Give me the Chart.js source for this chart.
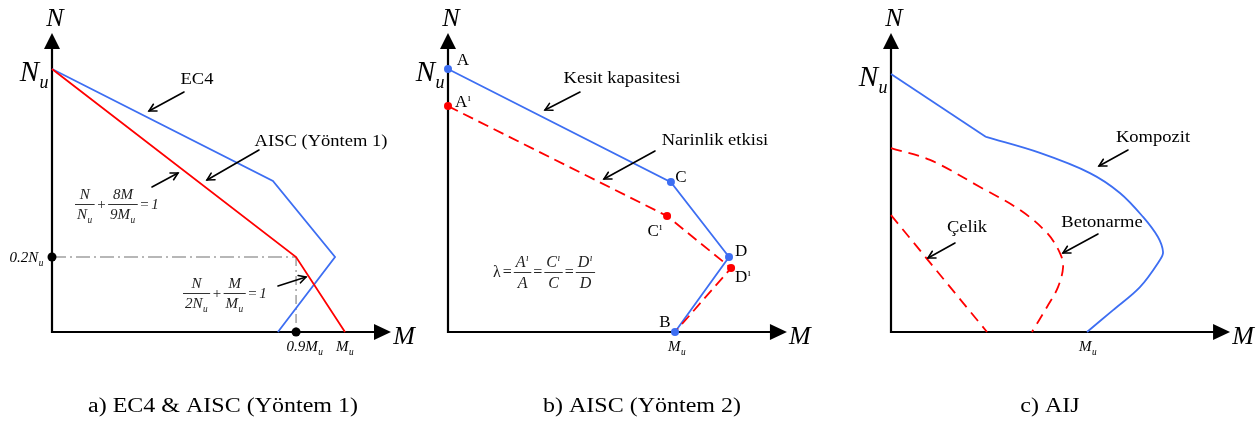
<!DOCTYPE html>
<html><head><meta charset="utf-8">
<script src="https://cdn.jsdelivr.net/npm/chart.js@4/dist/chart.umd.min.js"></script>
<style>
html,body{margin:0;padding:0;background:#fff;width:1260px;height:422px;overflow:hidden}
canvas{position:absolute;top:0}
</style></head><body>
<canvas id="ca" width="420" height="422" style="left:0px"></canvas>
<canvas id="cb" width="420" height="422" style="left:400px"></canvas>
<canvas id="cc" width="440" height="422" style="left:820px"></canvas>
<script>
// ---------- DATA (M in units of Mu, N in units of Nu) ----------
// Panel a) EC4 & AISC (Yöntem 1)
const ec4M  = [0, 0.754, 0.966, 0.771];
const ec4N  = [1, 0.574, 0.285, 0];
const aiscM = [0, 0.833, 1];
const aiscN = [1, 0.285, 0];
const aKeyM = [0.833];            // position of the 0.9Mu marker
const aKeyN = [0.285];            // position of the 0.2Nu marker
const aTickMValues = [0.833, 1];
const aTickMLabels = ['0.9M_u', 'M_u'];
const aTickNValues = [1, 0.285];
const aTickNLabels = ['N_u', '0.2N_u'];

// Panel b) AISC (Yöntem 2)
const capM = [0, 0.982, 1.238, 1];        // A, C, D, B
const capN = [1, 0.570, 0.285, 0];
const capLabels = ['A', 'C', 'D', 'B'];
const slenM = [0, 0.965, 1.247, 1];       // A', C', D', (B)
const slenN = [0.859, 0.441, 0.243, 0];
const slenLabels = ['A^ı', 'C^ı', 'D^ı'];
const bTickMValues = [1];
const bTickMLabels = ['M_u'];
const bTickNValues = [1];
const bTickNLabels = ['N_u'];

// Panel c) AIJ
const kompM = [0, 0.485, 0.760, 1.015, 1.168, 1.286, 1.362, 1.388, 1.372, 1.270, 1.133, 1.0];
const kompN = [1, 0.756, 0.694, 0.616, 0.539, 0.446, 0.368, 0.310, 0.279, 0.174, 0.085, 0];
const kompKink = 1;
const betonM = [0, 0.199, 0.454, 0.658, 0.796, 0.862, 0.878, 0.852, 0.796, 0.719];
const betonN = [0.713, 0.667, 0.562, 0.473, 0.384, 0.306, 0.252, 0.174, 0.097, 0];
const celikM = [0, 0.490];
const celikN = [0.453, 0];
const cTickMValues = [1];
const cTickMLabels = ['M_u'];
const cTickNValues = [1];
const cTickNLabels = ['N_u'];

const captions = ['a) EC4 & AISC (Yöntem 1)', 'b) AISC (Yöntem 2)', 'c) AIJ'];

// ---------- STYLE / LAYOUT ----------
const H = 422;
const BLUE = '#3d6ef2', RED = '#ff0000', GRAY = '#a0a0a0';
const SERIF = '"Liberation Serif","DejaVu Serif",serif';

function font(size, italic) { return (italic ? 'italic ' : '') + size + 'px ' + SERIF; }
function parseRich(str) {
  const segs = []; let cur = '';
  for (let i = 0; i < str.length; i++) {
    const ch = str[i];
    if ((ch === '_' || ch === '^') && i + 1 < str.length) {
      if (cur) { segs.push({ t: cur, m: 'n' }); cur = ''; }
      segs.push({ t: str[i + 1], m: ch === '_' ? 'sub' : 'sup' }); i++;
    } else cur += ch;
  }
  if (cur) segs.push({ t: cur, m: 'n' });
  return segs;
}
function richMeasure(ctx, str, size, italic) {
  let w = 0;
  for (const s of parseRich(str)) {
    ctx.font = font(s.m === 'n' ? size : size * 0.62, italic);
    w += ctx.measureText(s.t).width + (s.m !== 'n' ? 1 : 0);
  }
  return w;
}
function richDraw(ctx, str, x, base, size, italic) {
  let cx = x;
  ctx.textAlign = 'left'; ctx.textBaseline = 'alphabetic';
  for (const s of parseRich(str)) {
    const sz = s.m === 'n' ? size : size * 0.62;
    ctx.font = font(sz, italic);
    let y = base;
    if (s.m === 'sub') y = base + size * 0.24;
    if (s.m === 'sup') y = base - size * 0.36;
    if (s.m !== 'n') cx += 0.5;
    ctx.fillText(s.t, cx, y);
    cx += ctx.measureText(s.t).width + (s.m !== 'n' ? 0.5 : 0);
  }
}
function label(ctx, str, x, y, o) {
  const size = o.size, sx = o.sx || 1;
  const w = richMeasure(ctx, str, size, o.italic) * sx;
  const left = o.align === 'left' ? x : o.align === 'right' ? x - w : x - w / 2;
  ctx.save();
  ctx.fillStyle = o.color || '#000';
  ctx.translate(left, y + size * 0.33);
  ctx.scale(sx, 1);
  richDraw(ctx, str, 0, 0, size, o.italic);
  ctx.restore();
}
function formula(ctx, items, x, y, size, gap) {
  let cx = x;
  ctx.save(); ctx.fillStyle = '#222'; ctx.strokeStyle = '#333';
  for (const it of items) {
    if (it.frac) {
      const wn = richMeasure(ctx, it.frac[0], size, true), wd = richMeasure(ctx, it.frac[1], size, true);
      const w = Math.max(wn, wd) + 4;
      richDraw(ctx, it.frac[0], cx + (w - wn) / 2, y - size * 0.33, size, true);
      richDraw(ctx, it.frac[1], cx + (w - wd) / 2, y + size * 1.0, size, true);
      ctx.lineWidth = 1; ctx.beginPath(); ctx.moveTo(cx, y + 0.5); ctx.lineTo(cx + w, y + 0.5); ctx.stroke();
      cx += w + gap;
    } else {
      const italic = !it.up;
      const w = richMeasure(ctx, it.t, size, italic);
      richDraw(ctx, it.t, cx, y + size * 0.3, size, italic);
      cx += w + gap;
    }
  }
  ctx.restore();
}
function pointer(ctx, x1, y1, x2, y2) {
  ctx.save();
  ctx.strokeStyle = '#000'; ctx.lineWidth = 1.6; ctx.lineCap = 'round';
  ctx.beginPath(); ctx.moveTo(x1, y1); ctx.lineTo(x2, y2); ctx.stroke();
  const a = Math.atan2(y2 - y1, x2 - x1), L = 8, s = 0.5;
  ctx.beginPath();
  ctx.moveTo(x2 - L * Math.cos(a - s), y2 - L * Math.sin(a - s));
  ctx.lineTo(x2, y2);
  ctx.lineTo(x2 - L * Math.cos(a + s), y2 - L * Math.sin(a + s));
  ctx.stroke();
  ctx.restore();
}

const zip = (xs, ys) => xs.map((x, i) => ({ x, y: ys[i] }));

const panelPlugin = (cfg) => ({
  id: 'panel',
  beforeDatasetsDraw(chart) {
    const ctx = chart.ctx, xs = chart.scales.x, ys = chart.scales.y;
    const x0 = xs.getPixelForValue(0), y0 = ys.getPixelForValue(0);
    const xt = xs.getPixelForValue(cfg.axisM), yt = ys.getPixelForValue(cfg.axisN);
    ctx.save();
    ctx.strokeStyle = '#000'; ctx.fillStyle = '#000'; ctx.lineWidth = 2.2;
    ctx.beginPath();
    ctx.moveTo(x0, yt + 14); ctx.lineTo(x0, y0); ctx.lineTo(xt - 14, y0);
    ctx.stroke();
    ctx.beginPath(); ctx.moveTo(x0, yt); ctx.lineTo(x0 - 8, yt + 16); ctx.lineTo(x0 + 8, yt + 16); ctx.closePath(); ctx.fill();
    ctx.beginPath(); ctx.moveTo(xt, y0); ctx.lineTo(xt - 17, y0 - 8); ctx.lineTo(xt - 17, y0 + 8); ctx.closePath(); ctx.fill();
    ctx.restore();
  },
  afterDatasetsDraw(chart) {
    const ctx = chart.ctx, xs = chart.scales.x, ys = chart.scales.y;
    const x0 = xs.getPixelForValue(0), y0 = ys.getPixelForValue(0);
    const xt = xs.getPixelForValue(cfg.axisM), yt = ys.getPixelForValue(cfg.axisN);
    const ox = cfg.shift || 0;
    // axis titles
    label(ctx, 'N', x0 + 3, yt - 16, { size: 26, italic: true });
    label(ctx, 'M', xt + 13, y0 + 3, { size: 26, italic: true });
    // tick labels
    cfg.tickNValues.forEach((v, i) => {
      const big = cfg.tickNLabels[i] === 'N_u';
      label(ctx, cfg.tickNLabels[i], x0 - (big ? 3 : 8), ys.getPixelForValue(v) + (big ? 2 : 0),
        { size: big ? 29 : 15, italic: true, align: 'right' });
    });
    cfg.tickMValues.forEach((v, i) => {
      label(ctx, cfg.tickMLabels[i], xs.getPixelForValue(v) + (cfg.tickMShift[i] || 0), y0 + 14,
        { size: 15, italic: true });
    });
    // point labels
    (cfg.pointLabels || []).forEach(p => {
      p.labels.forEach((s, i) => {
        if (!s) return;
        label(ctx, s, xs.getPixelForValue(p.m[i]) + p.dx[i], ys.getPixelForValue(p.n[i]) + p.dy[i], { size: 17 });
      });
    });
    (cfg.texts || []).forEach(t => label(ctx, t.s, t.x - ox, t.y, { size: 17, sx: 1.09 }));
    (cfg.arrows || []).forEach(a => pointer(ctx, a[0] - ox, a[1], a[2] - ox, a[3]));
    (cfg.formulas || []).forEach(f => formula(ctx, f.items, f.x - ox, f.y, f.size, f.gap));
    label(ctx, cfg.caption, cfg.captionX - ox, 405, { size: 20, sx: 1.2 });
  }
});

// L: origin (page px) & px per unit; canvas left offset = shift
function makeChart(id, L, datasets, cfg) {
  const cv = document.getElementById(id);
  const Wc = cv.width, ox = L.ox - cfg.shift;
  return new Chart(cv, {
    type: 'scatter',
    data: { datasets },
    options: {
      responsive: false, animation: false, devicePixelRatio: 1, events: [],
      layout: { padding: 0, autoPadding: false },
      plugins: { legend: { display: false }, tooltip: { enabled: false } },
      scales: {
        x: { type: 'linear', display: false, min: -ox / L.ux, max: (Wc - ox) / L.ux },
        y: { type: 'linear', display: false, min: (L.oy - H) / L.uy, max: L.oy / L.uy }
      }
    },
    plugins: [panelPlugin(cfg)]
  });
}
const lineDs = (data, color, extra) => Object.assign({
  data, showLine: true, borderColor: color, borderWidth: 1.8, pointRadius: 0, fill: false, tension: 0
}, extra || {});
const dotDs = (data, color, r, extra) => Object.assign({
  data, showLine: false, pointRadius: r, pointBackgroundColor: color, pointBorderWidth: 0, order: 0
}, extra || {});

// ---- Panel a ---- (page coordinates for annotations)
makeChart('ca', { ox: 52, oy: 332, ux: 293, uy: 263 }, [
  dotDs(zip([0, aKeyM[0]], [aKeyN[0], 0]), '#000', 4.5),
  lineDs(zip(aiscM, aiscN), RED, { order: 1 }),
  lineDs(zip(ec4M, ec4N), BLUE, { order: 2 }),
  lineDs(zip([0, aKeyM[0]], [aKeyN[0], aKeyN[0]]), GRAY, { borderWidth: 1.5, borderDash: [14, 4, 2, 4], order: 3 }),
  lineDs(zip([aKeyM[0], aKeyM[0]], [aKeyN[0], 0]), GRAY, { borderWidth: 1.5, borderDash: [9, 4, 2, 4], order: 3 })
], {
  shift: 0, axisM: 1.157, axisN: 1.137,
  tickNValues: aTickNValues, tickNLabels: aTickNLabels,
  tickMValues: aTickMValues, tickMLabels: aTickMLabels, tickMShift: [9, 0],
  texts: [{ s: 'EC4', x: 197, y: 78 }, { s: 'AISC (Yöntem 1)', x: 321, y: 140 }],
  arrows: [[184, 92, 149, 111], [259, 150, 207, 180], [152, 187, 178, 173], [278, 286, 306, 277]],
  formulas: [
    { x: 75, y: 204, size: 15, gap: 2.5, items: [{ frac: ['N', 'N_u'] }, { t: '+', up: true }, { frac: ['8M', '9M_u'] }, { t: '=', up: true }, { t: '1' }] },
    { x: 183, y: 293, size: 15, gap: 2.5, items: [{ frac: ['N', '2N_u'] }, { t: '+', up: true }, { frac: ['M', 'M_u'] }, { t: '=', up: true }, { t: '1' }] }
  ],
  caption: captions[0], captionX: 223
});

// ---- Panel b ----
makeChart('cb', { ox: 448, oy: 332, ux: 227, uy: 263 }, [
  dotDs(zip(capM, capN), BLUE, 4),
  dotDs(zip(slenM.slice(0, 3), slenN.slice(0, 3)), RED, 4, { order: 1 }),
  lineDs(zip(slenM, slenN), RED, { borderDash: [11, 6], order: 2 }),
  lineDs(zip(capM, capN), BLUE, { order: 3 })
], {
  shift: 400, axisM: 1.493, axisN: 1.137,
  tickNValues: bTickNValues, tickNLabels: bTickNLabels,
  tickMValues: bTickMValues, tickMLabels: bTickMLabels, tickMShift: [2],
  pointLabels: [
    { labels: capLabels, m: capM, n: capN, dx: [15, 10, 12, -10], dy: [-10, -6, -7, -11] },
    { labels: slenLabels, m: slenM, n: slenN, dx: [15, -12, 12], dy: [-5, 14, 8] }
  ],
  texts: [{ s: 'Kesit kapasitesi', x: 622, y: 77 }, { s: 'Narinlik etkisi', x: 715, y: 139 }],
  arrows: [[580, 92, 545, 110], [655, 151, 604, 179]],
  formulas: [
    { x: 493, y: 272, size: 16, gap: 2, items: [{ t: 'λ', up: true }, { t: '=', up: true }, { frac: ['A^ı', 'A'] }, { t: '=', up: true }, { frac: ['C^ı', 'C'] }, { t: '=', up: true }, { frac: ['D^ı', 'D'] }] }
  ],
  caption: captions[1], captionX: 642
});

// ---- Panel c ----
makeChart('cc', { ox: 891, oy: 332, ux: 196, uy: 258 }, [
  lineDs(zip(kompM.slice(0, kompKink + 1), kompN.slice(0, kompKink + 1)), BLUE, { order: 1 }),
  lineDs(zip(kompM.slice(kompKink), kompN.slice(kompKink)), BLUE, { tension: 0.35, order: 1 }),
  lineDs(zip(betonM, betonN), RED, { borderDash: [11, 7], tension: 0.35, order: 2 }),
  lineDs(zip(celikM, celikN), RED, { borderDash: [11, 7], order: 2 })
], {
  shift: 820, axisM: 1.730, axisN: 1.159,
  tickNValues: cTickNValues, tickNLabels: cTickNLabels,
  tickMValues: cTickMValues, tickMLabels: cTickMLabels, tickMShift: [1],
  texts: [{ s: 'Kompozit', x: 1153, y: 136 }, { s: 'Çelik', x: 967, y: 226 }, { s: 'Betonarme', x: 1102, y: 221 }],
  arrows: [[1128, 150, 1099, 166], [955, 243, 928, 258], [1098, 234, 1063, 253]],
  caption: captions[2], captionX: 1050
});
</script>
</body></html>
